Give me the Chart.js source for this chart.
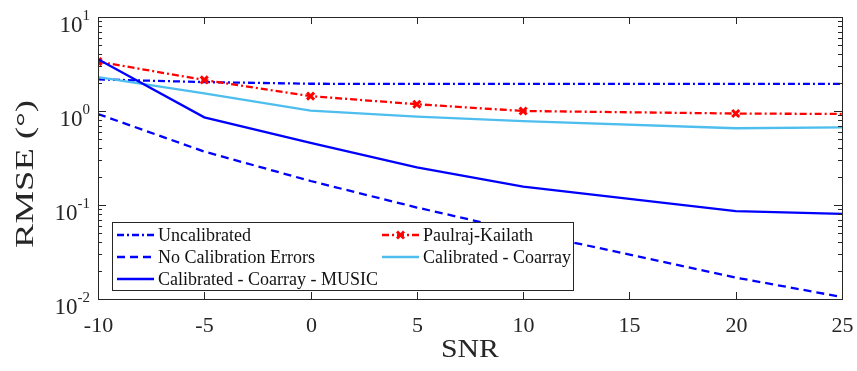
<!DOCTYPE html>
<html>
<head>
<meta charset="utf-8">
<script src="https://cdn.jsdelivr.net/npm/chart.js@4"></script>
<style>
  body { margin: 0; background: #fff; }
  canvas { display: block; }
</style>
</head>
<body>
<canvas id="grafico" width="857" height="371"></canvas>
<script>
const snr = [-10, -5, 0, 5, 10, 20, 25];
const uncalibrated = [2.17, 2.03, 1.95, 1.94, 1.94, 1.94, 1.94];
const paulraj = [3.35, 2.14, 1.44, 1.18, 1.0, 0.94, 0.93];
const noErrors = [0.93, 0.37, 0.18, 0.094, 0.052, 0.0169, 0.0105];
const coarray = [2.29, 1.54, 1.01, 0.87, 0.78, 0.655, 0.67];
const music = [3.55, 0.857, 0.458, 0.252, 0.157, 0.086, 0.0805];

const xTicks = [-10, -5, 0, 5, 10, 15, 20, 25];
const yTicks = [0.01, 0.1, 1, 10];
const yExps = ["-2", "-1", "0", "1"];

const SERIF = "'Liberation Serif', 'Times New Roman', serif";
const AXIS = "#262626";

function pts(vals) {
  return snr.map((x, i) => ({ x: x, y: vals[i] }));
}

const series = [
  { label: "Uncalibrated", data: uncalibrated, color: "#0000ff", dash: [7, 3, 2, 3] },
  { label: "Paulraj-Kailath", data: paulraj, color: "#ff0000", dash: [7, 3, 2, 3], marker: true },
  { label: "No Calibration Errors", data: noErrors, color: "#0000ff", dash: [8, 5] },
  { label: "Calibrated - Coarray", data: coarray, color: "#4dbeee", dash: [] },
  { label: "Calibrated - Coarray - MUSIC", data: music, color: "#0000ff", dash: [] }
];

// draws the axes box, inward ticks, tick labels, axis titles and the legend
const matlabAxes = {
  id: "matlabAxes",
  afterDraw(chart) {
    const { ctx, chartArea: a, scales: { x, y } } = chart;
    ctx.save();
    ctx.strokeStyle = AXIS;
    ctx.lineWidth = 1;
    ctx.strokeRect(a.left + 0.5, a.top + 0.5, a.right - a.left, a.bottom - a.top);

    function seg(x1, y1, x2, y2) {
      ctx.beginPath();
      ctx.moveTo(x1, y1);
      ctx.lineTo(x2, y2);
      ctx.stroke();
    }

    ctx.fillStyle = "#262626";
    ctx.font = "22px " + SERIF;
    ctx.textAlign = "center";
    ctx.textBaseline = "alphabetic";
    xTicks.forEach(v => {
      const px = Math.round(x.getPixelForValue(v)) + 0.5;
      seg(px, a.bottom, px, a.bottom - 7);
      seg(px, a.top, px, a.top + 7);
      ctx.fillText(String(v), px, a.bottom + 33);
    });

    // minor log ticks
    for (let d = 0.01; d < 10; d *= 10) {
      for (let k = 2; k <= 9; k++) {
        const py = Math.round(y.getPixelForValue(d * k)) + 0.5;
        seg(a.left, py, a.left + 4, py);
        seg(a.right, py, a.right - 4, py);
      }
    }
    yTicks.forEach((v, i) => {
      const py = Math.round(y.getPixelForValue(v)) + 0.5;
      seg(a.left, py, a.left + 8, py);
      seg(a.right, py, a.right - 8, py);
      ctx.textAlign = "right";
      ctx.font = "15px " + SERIF;
      ctx.fillText(yExps[i], 90, py + 2);
      const ew = ctx.measureText(yExps[i]).width;
      ctx.font = "23px " + SERIF;
      ctx.fillText("10", 90 - ew, py + 14);
    });

    // axis titles
    ctx.textAlign = "center";
    ctx.font = "26px " + SERIF;
    let w = ctx.measureText("SNR").width;
    ctx.save();
    ctx.translate(470, 357);
    ctx.scale(58 / w, 1);
    ctx.fillText("SNR", 0, 0);
    ctx.restore();

    w = ctx.measureText("RMSE (°)").width;
    ctx.save();
    ctx.translate(33, 174);
    ctx.rotate(-Math.PI / 2);
    ctx.scale(148 / w, 1);
    ctx.fillText("RMSE (°)", 0, 0);
    ctx.restore();

    // legend
    const L = { left: 112, top: 222, right: 573, bottom: 290 };
    ctx.fillStyle = "#fff";
    ctx.fillRect(L.left, L.top, L.right - L.left, L.bottom - L.top);
    ctx.strokeStyle = AXIS;
    ctx.strokeRect(L.left + 0.5, L.top + 0.5, L.right - L.left, L.bottom - L.top);
    const cols = [117, 382];
    const rows = [235, 257, 279];
    ctx.font = "18px " + SERIF;
    ctx.textAlign = "left";
    ctx.textBaseline = "middle";
    series.forEach((s, i) => {
      const cx = cols[i % 2];
      const cy = rows[Math.floor(i / 2)];
      ctx.strokeStyle = s.color;
      ctx.lineWidth = 2.3;
      ctx.setLineDash(s.dash);
      seg(cx, cy, cx + 37, cy);
      ctx.setLineDash([]);
      if (s.marker) {
        const mx = cx + 18.5;
        ctx.lineWidth = 2.8;
        seg(mx - 3.5, cy - 3.5, mx + 3.5, cy + 3.5);
        seg(mx - 3.5, cy + 3.5, mx + 3.5, cy - 3.5);
      }
      ctx.fillStyle = "#111";
      ctx.fillText(s.label, cx + 41, cy + 1);
    });
    ctx.restore();
  }
};

const chart = new Chart(document.getElementById("grafico"), {
  type: "line",
  data: {
    datasets: series.map((s, i) => ({
      label: s.label,
      data: pts(s.data),
      borderColor: s.color,
      backgroundColor: s.color,
      borderWidth: 2.3,
      borderDash: s.dash,
      pointStyle: "crossRot",
      pointRadius: s.marker ? [5, 5, 5, 5, 5, 5, 0] : 0,
      pointBorderWidth: 3,
      pointBorderColor: s.color,
      tension: 0,
      fill: false,
      order: series.length - i
    }))
  },
  options: {
    responsive: false,
    animation: false,
    devicePixelRatio: 1,
    layout: { padding: { left: 98, right: 15, top: 17, bottom: 72 } },
    scales: {
      x: { type: "linear", min: -10, max: 25, display: false },
      y: { type: "logarithmic", min: 0.01, max: 10, display: false }
    },
    plugins: {
      legend: { display: false },
      tooltip: { enabled: false }
    }
  },
  plugins: [matlabAxes]
});
</script>
</body>
</html>
